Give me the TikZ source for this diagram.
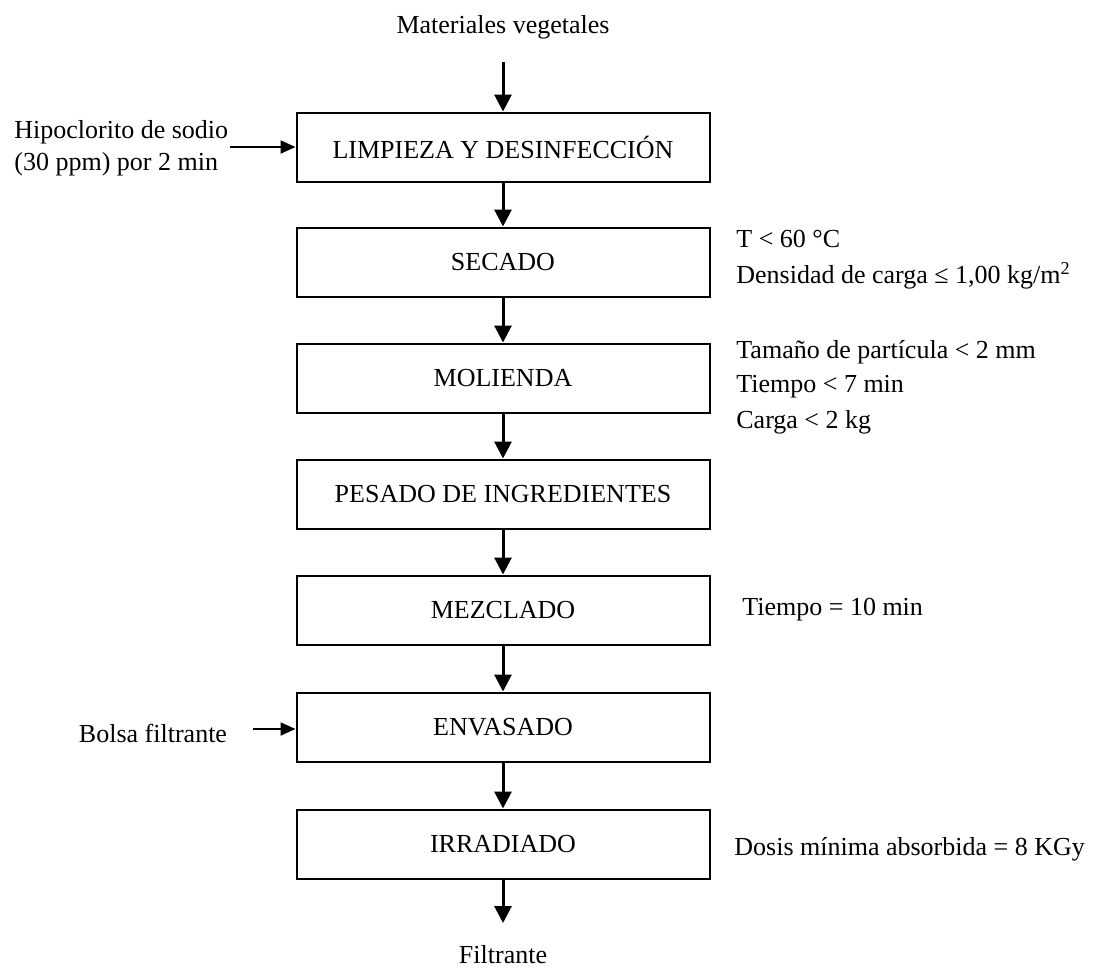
\documentclass[tikz,border=0pt]{standalone}
\usepackage{fontspec}
\setmainfont{Liberation Serif}
\usetikzlibrary{arrows.meta}
\begin{document}
\begin{tikzpicture}[x=0.5pt,y=-0.5pt,
  stepbox/.style={draw,line width=1pt,rectangle,minimum width=206.5pt,minimum height=34.5pt,inner sep=0pt,font=\fontsize{13}{15}\selectfont},
  lbl/.style={inner sep=0pt,font=\fontsize{13}{15}\selectfont},
  flow/.style={line width=1.5pt,-{Triangle[width=8.5pt,length=8.5pt]}},
  feed/.style={line width=1pt,-{Triangle[width=6.5pt,length=7.5pt]}}]
\useasboundingbox (0,0) rectangle (1094,970);
\node[lbl] (mat) at (503,27) {Materiales vegetales};
\coordinate (matend) at (503,62);
\node[stepbox] (limp) at (503,147) {LIMPIEZA Y DESINFECCIÓN};
\node[stepbox] (sec) at (503,262) {SECADO};
\node[stepbox] (mol) at (503,378) {MOLIENDA};
\node[stepbox] (pes) at (503,494) {PESADO DE INGREDIENTES};
\node[stepbox] (mez) at (503,610) {MEZCLADO};
\node[stepbox] (env) at (503,727) {ENVASADO};
\node[stepbox] (irr) at (503,844) {IRRADIADO};
\coordinate (filend) at (503,923);
\node[lbl] (fil) at (503,955) {Filtrante};

\draw[flow] (matend) -- (limp.north);
\draw[flow] (limp.south) -- (sec.north);
\draw[flow] (sec.south) -- (mol.north);
\draw[flow] (mol.south) -- (pes.north);
\draw[flow] (pes.south) -- (mez.north);
\draw[flow] (mez.south) -- (env.north);
\draw[flow] (env.south) -- (irr.north);
\draw[flow] (irr.south) -- (filend);

\node[lbl,anchor=west] (hip1) at (14,132) {Hipoclorito de sodio};
\node[lbl,anchor=west] (hip2) at (14,164) {(30 ppm) por 2 min};
\coordinate (hipstart) at (230,147);
\draw[feed] (hipstart) -- (limp.west);

\node[lbl] (bol) at (153,733) {Bolsa filtrante};
\coordinate (bolstart) at (253,729);
\draw[feed] (bolstart) -- (env.west |- bolstart);

\node[lbl,anchor=west] (s1) at (736,239) {T < 60 °C};
\node[lbl,anchor=west] (s2) at (736,276) {Densidad de carga ≤ 1,00 kg/m\textsuperscript{2}};
\node[lbl,anchor=west] (m1) at (736,352) {Tamaño de partícula < 2 mm};
\node[lbl,anchor=west] (m2) at (736,387) {Tiempo < 7 min};
\node[lbl,anchor=west] (m3) at (736,422) {Carga < 2 kg};
\node[lbl,anchor=west] (z1) at (742,610) {Tiempo = 10 min};
\node[lbl,anchor=west] (i1) at (734,849) {Dosis mínima absorbida = 8 KGy};
\end{tikzpicture}
\end{document}
